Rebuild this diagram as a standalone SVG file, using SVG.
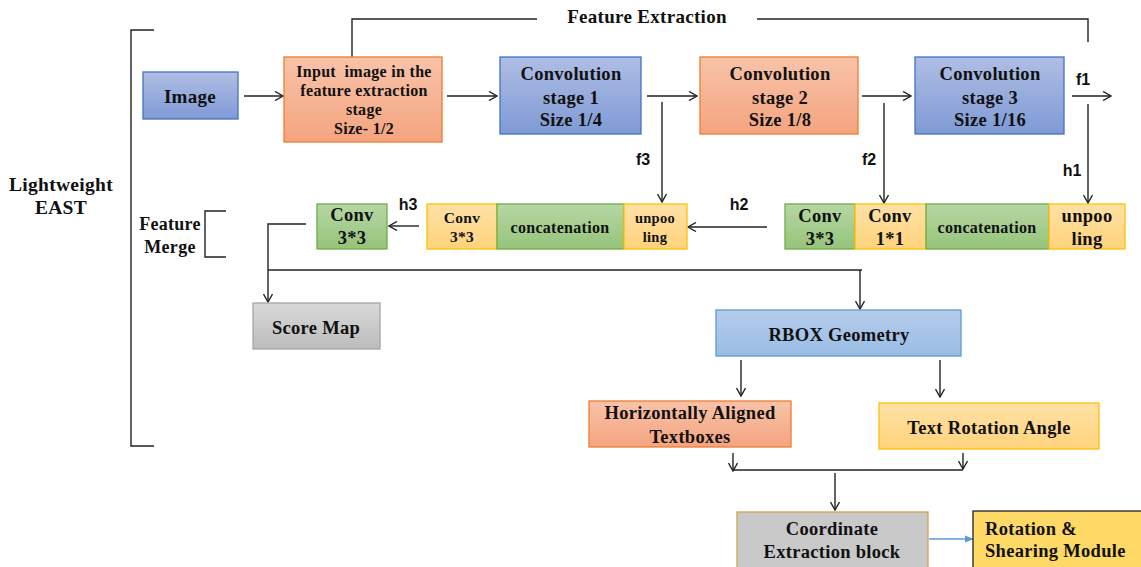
<svg xmlns="http://www.w3.org/2000/svg" width="1141" height="567" viewBox="0 0 1141 567">
  <defs>
    <linearGradient id="gBlue" x1="0" y1="0" x2="0" y2="1">
      <stop offset="0" stop-color="#afbee4"/>
      <stop offset="1" stop-color="#7f9ad6"/>
    </linearGradient>
    <linearGradient id="gOrange" x1="0" y1="0" x2="0" y2="1">
      <stop offset="0" stop-color="#f8c3a9"/>
      <stop offset="1" stop-color="#f4a47f"/>
    </linearGradient>
    <linearGradient id="gYellow" x1="0" y1="0" x2="0" y2="1">
      <stop offset="0" stop-color="#ffe1a6"/>
      <stop offset="1" stop-color="#ffd37c"/>
    </linearGradient>
    <linearGradient id="gGreen" x1="0" y1="0" x2="0" y2="1">
      <stop offset="0" stop-color="#b6d7a4"/>
      <stop offset="1" stop-color="#95c47a"/>
    </linearGradient>
    <linearGradient id="gGray" x1="0" y1="0" x2="0" y2="1">
      <stop offset="0" stop-color="#d9d9d9"/>
      <stop offset="1" stop-color="#bcbcbc"/>
    </linearGradient>
    <linearGradient id="gSky" x1="0" y1="0" x2="0" y2="1">
      <stop offset="0" stop-color="#b5cdec"/>
      <stop offset="1" stop-color="#99bce4"/>
    </linearGradient>
    <marker id="arr" viewBox="0 0 10 10" refX="9" refY="5" markerWidth="10" markerHeight="10" markerUnits="userSpaceOnUse" orient="auto">
      <path d="M1,0.5 L9,5 L1,9.5" fill="none" stroke="#222" stroke-width="1.4"/>
    </marker>
    <marker id="arrBlue" viewBox="0 0 10 10" refX="9" refY="5" markerWidth="9" markerHeight="9" markerUnits="userSpaceOnUse" orient="auto">
      <path d="M0,1 L10,5 L0,9 Z" fill="#5b9bd5"/>
    </marker>
    <style>
      .t { font-family: "Liberation Serif", "Times New Roman", serif; font-weight: bold; fill: #111; text-anchor: middle; letter-spacing: 0.3px; }
      .l { text-anchor: start; }
      .lbl { font-family: "Liberation Sans", Arial, sans-serif; font-weight: bold; font-size: 16px; fill: #111; text-anchor: middle; }
      .ln { fill: none; stroke: #222; stroke-width: 1.4; }
      .blue { fill: url(#gBlue); stroke: #4472c4; stroke-width: 1.3; }
      .orange { fill: url(#gOrange); stroke: #ed7d31; stroke-width: 1.3; }
      .yellow { fill: url(#gYellow); stroke: #ffc000; stroke-width: 1.3; }
      .green { fill: url(#gGreen); stroke: #70ad47; stroke-width: 1.3; }
      .gray { fill: url(#gGray); stroke: #a5a5a5; stroke-width: 1.3; }
      .sky { fill: url(#gSky); stroke: #5b9bd5; stroke-width: 1.3; }
    </style>
  </defs>

  <!-- outer brackets and section labels -->
  <g id="brackets">
    <path class="ln" d="M154,30 H131 V446 H154"/>
    <text class="t" x="61" y="191" font-size="19.5">Lightweight</text>
    <text class="t" x="61" y="214" font-size="19.5">EAST</text>
    <path class="ln" d="M226,211 H205 V257 H226"/>
    <text class="t" x="170" y="230" font-size="18">Feature</text>
    <text class="t" x="170" y="253" font-size="18">Merge</text>
    <path class="ln" d="M352,57 V19 H537"/>
    <path class="ln" d="M757,19 H1088 V42"/>
    <text class="t" x="647" y="23" font-size="19">Feature Extraction</text>
  </g>

  <!-- connectors -->
  <g id="connectors">
    <line class="ln" x1="244" y1="96" x2="283" y2="96" marker-end="url(#arr)"/>
    <line class="ln" x1="447" y1="96" x2="497" y2="96" marker-end="url(#arr)"/>
    <line class="ln" x1="647" y1="96" x2="697" y2="96" marker-end="url(#arr)"/>
    <line class="ln" x1="862" y1="96" x2="911" y2="96" marker-end="url(#arr)"/>
    <line class="ln" x1="1072" y1="96" x2="1111" y2="96" marker-end="url(#arr)"/>
    <line class="ln" x1="662" y1="102" x2="662" y2="202" marker-end="url(#arr)"/>
    <line class="ln" x1="884" y1="103" x2="884" y2="203" marker-end="url(#arr)"/>
    <line class="ln" x1="1088" y1="104" x2="1088" y2="203" marker-end="url(#arr)"/>
    <line class="ln" x1="767" y1="227" x2="688" y2="227" marker-end="url(#arr)"/>
    <line class="ln" x1="419" y1="226" x2="389" y2="226" marker-end="url(#arr)"/>
    <path class="ln" d="M306,224 H268 V302" marker-end="url(#arr)"/>
    <path class="ln" d="M268,270 H862"/>
    <line class="ln" x1="860" y1="270" x2="860" y2="309" marker-end="url(#arr)"/>
    <line class="ln" x1="741" y1="360" x2="741" y2="396" marker-end="url(#arr)"/>
    <line class="ln" x1="940" y1="360" x2="940" y2="397" marker-end="url(#arr)"/>
    <line class="ln" x1="733" y1="453" x2="733" y2="471" marker-end="url(#arr)"/>
    <line class="ln" x1="963" y1="453" x2="963" y2="469" marker-end="url(#arr)"/>
    <path class="ln" d="M733,470 H963"/>
    <line class="ln" x1="835" y1="473" x2="835" y2="510" marker-end="url(#arr)"/>
    <line x1="929" y1="539" x2="973" y2="539" stroke="#5b9bd5" stroke-width="1.5" marker-end="url(#arrBlue)"/>
    <text class="lbl" x="1083" y="85">f1</text>
    <text class="lbl" x="643" y="165">f3</text>
    <text class="lbl" x="869" y="165">f2</text>
    <text class="lbl" x="1072" y="176">h1</text>
    <text class="lbl" x="739" y="210">h2</text>
    <text class="lbl" x="408" y="210">h3</text>
  </g>

  <!-- feature extraction row -->
  <g id="image">
    <rect class="blue" x="143" y="72" width="95" height="47"/>
    <text class="t" x="190" y="103" font-size="19">Image</text>
  </g>
  <g id="input-stage">
    <rect class="orange" x="284" y="57" width="158" height="85"/>
    <text class="t" x="364" y="77" font-size="16" xml:space="preserve">Input  image in the</text>
    <text class="t" x="364" y="96" font-size="16">feature extraction</text>
    <text class="t" x="364" y="115" font-size="16">stage</text>
    <text class="t" x="364" y="134" font-size="16">Size- 1/2</text>
  </g>
  <g id="conv-stage-1">
    <rect class="blue" x="500" y="57" width="141" height="77"/>
    <text class="t" x="571" y="80" font-size="18.5">Convolution</text>
    <text class="t" x="571" y="104" font-size="18.5">stage 1</text>
    <text class="t" x="571" y="126" font-size="18.5">Size 1/4</text>
  </g>
  <g id="conv-stage-2">
    <rect class="orange" x="700" y="57" width="158" height="77"/>
    <text class="t" x="780" y="80" font-size="18.5">Convolution</text>
    <text class="t" x="780" y="104" font-size="18.5">stage 2</text>
    <text class="t" x="780" y="126" font-size="18.5">Size 1/8</text>
  </g>
  <g id="conv-stage-3">
    <rect class="blue" x="915" y="57" width="149" height="77"/>
    <text class="t" x="990" y="80" font-size="18.5">Convolution</text>
    <text class="t" x="990" y="104" font-size="18.5">stage 3</text>
    <text class="t" x="990" y="126" font-size="18.5">Size 1/16</text>
  </g>

  <!-- feature merge row, right block -->
  <g id="merge-1">
    <rect class="green" x="785" y="204" width="70" height="45"/>
    <text class="t" x="820" y="222" font-size="18.5">Conv</text>
    <text class="t" x="820" y="245" font-size="18.5">3*3</text>
    <rect class="yellow" x="855" y="204" width="71" height="45"/>
    <text class="t" x="890" y="222" font-size="18.5">Conv</text>
    <text class="t" x="890" y="245" font-size="18.5">1*1</text>
    <rect class="green" x="926" y="204" width="123" height="45"/>
    <text class="t" x="987" y="233" font-size="16">concatenation</text>
    <rect class="yellow" x="1049" y="204" width="76" height="45"/>
    <text class="t" x="1087" y="222" font-size="18.5">unpoo</text>
    <text class="t" x="1087" y="245" font-size="18.5">ling</text>
  </g>

  <!-- feature merge row, middle block -->
  <g id="merge-2">
    <rect class="yellow" x="427" y="204" width="70" height="45"/>
    <text class="t" x="462" y="223" font-size="15.5">Conv</text>
    <text class="t" x="462" y="242" font-size="15.5">3*3</text>
    <rect class="green" x="497" y="204" width="127" height="45"/>
    <text class="t" x="560" y="233" font-size="16">concatenation</text>
    <rect class="yellow" x="624" y="204" width="63" height="45"/>
    <text class="t" x="655" y="223" font-size="14.5">unpoo</text>
    <text class="t" x="655" y="242" font-size="14.5">ling</text>
  </g>

  <g id="merge-conv">
    <rect class="green" x="317" y="204" width="70" height="45"/>
    <text class="t" x="352" y="221" font-size="18.5">Conv</text>
    <text class="t" x="352" y="244" font-size="18.5">3*3</text>
  </g>

  <!-- outputs -->
  <g id="score-map">
    <rect class="gray" x="253" y="303" width="127" height="46"/>
    <text class="t" x="316" y="334" font-size="18.5">Score Map</text>
  </g>
  <g id="rbox-geometry">
    <rect class="sky" x="716" y="310" width="245" height="46"/>
    <text class="t" x="839" y="341" font-size="18.5">RBOX Geometry</text>
  </g>
  <g id="aligned-textboxes">
    <rect class="orange" x="589" y="401" width="202" height="46"/>
    <text class="t" x="690" y="419" font-size="18.5">Horizontally Aligned</text>
    <text class="t" x="690" y="443" font-size="18.5">Textboxes</text>
  </g>
  <g id="rotation-angle">
    <rect class="yellow" x="879" y="403" width="220" height="46"/>
    <text class="t" x="989" y="434" font-size="18.5">Text Rotation Angle</text>
  </g>
  <g id="coordinate-extraction">
    <rect x="737" y="512" width="191" height="58" fill="#c9c9c9" stroke="#c9a84a" stroke-width="1.3"/>
    <text class="t" x="832" y="535" font-size="18.5">Coordinate</text>
    <text class="t" x="832" y="558" font-size="18.5">Extraction block</text>
  </g>
  <g id="rotation-shearing">
    <rect x="973" y="511" width="170" height="60" fill="#ffd966" stroke="#222" stroke-width="1.3"/>
    <text class="t l" x="985" y="535" font-size="18.5">Rotation &amp;</text>
    <text class="t l" x="985" y="557" font-size="18.5">Shearing Module</text>
  </g>
</svg>
